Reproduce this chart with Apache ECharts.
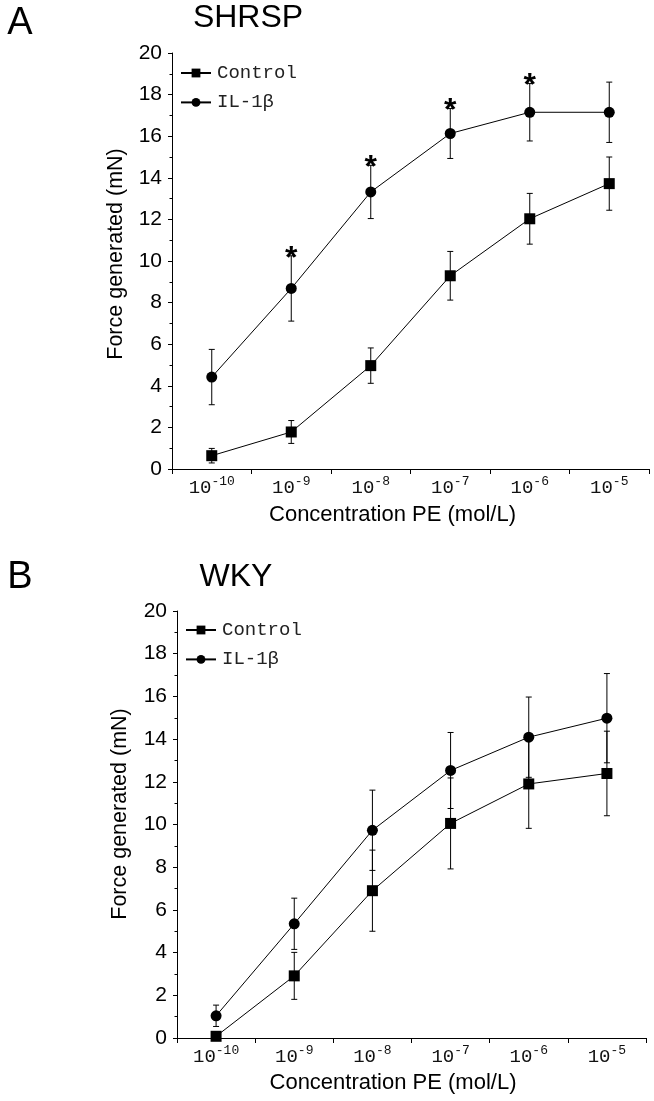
<!DOCTYPE html>
<html>
<head>
<meta charset="utf-8">
<script src="https://cdn.jsdelivr.net/npm/echarts@6/dist/echarts.min.js"></script>
<style>html,body{margin:0;padding:0;background:#fff;}#c{width:654px;height:1101px;}</style>
</head>
<body>
<div id="c"></div>
<script>
// x categories: exponent of PE concentration (10^x mol/L)
var exponents = ['-10', '-9', '-8', '-7', '-6', '-5'];
var yTicks = [0, 2, 4, 6, 8, 10, 12, 14, 16, 18, 20];

// Panel A: SHRSP
var shrspControl = [0.64, 1.78, 4.97, 9.29, 12.03, 13.72];
var shrspControlErr = [0.35, 0.55, 0.85, 1.17, 1.22, 1.28];
var shrspIL = [4.42, 8.68, 13.32, 16.13, 17.15, 17.15];
var shrspILErr = [1.33, 1.57, 1.28, 1.2, 1.38, 1.45];
var shrspStars = [0, 1, 1, 1, 1, 0];

// Panel B: WKY
var wkyControl = [0.08, 2.91, 6.9, 10.05, 11.9, 12.39];
var wkyControlErr = [0.08, 1.1, 1.9, 2.13, 2.08, 1.98];
var wkyIL = [1.04, 5.35, 9.73, 12.53, 14.09, 14.98];
var wkyILErr = [0.5, 1.2, 1.88, 1.78, 1.88, 2.09];
var wkyStars = [0, 0, 0, 0, 0, 0];

var SANS = 'Liberation Sans, Arial, sans-serif';
var MONO = 'Liberation Mono, Courier New, monospace';

var chart = echarts.init(document.getElementById('c'), null, {renderer: 'canvas'});

function errSeries(idx, mean, err) {
  return {
    type: 'custom', xAxisIndex: idx, yAxisIndex: idx, silent: true, z: 1, clip: false,
    data: mean.map(function (m, i) { return [i, m, err[i]]; }),
    encode: {x: 0, y: 1},
    renderItem: function (params, api) {
      var x = api.value(0), m = api.value(1), e = api.value(2);
      var t = api.coord([x, m + e]);
      var b = api.coord([x, m - e]);
      var w = 3;
      var st = {stroke: '#000', lineWidth: 1};
      return {type: 'group', children: [
        {type: 'line', shape: {x1: t[0], y1: t[1], x2: b[0], y2: b[1]}, style: st},
        {type: 'line', shape: {x1: t[0] - w, y1: t[1], x2: t[0] + w, y2: t[1]}, style: st},
        {type: 'line', shape: {x1: b[0] - w, y1: b[1], x2: b[0] + w, y2: b[1]}, style: st}
      ]};
    }
  };
}

function starSeries(idx, mean, err, stars) {
  return {
    type: 'custom', xAxisIndex: idx, yAxisIndex: idx, silent: true, z: 3, clip: false,
    data: mean.map(function (m, i) { return [i, m, err[i], stars[i]]; }),
    encode: {x: 0, y: 1},
    renderItem: function (params, api) {
      if (!api.value(3)) return null;
      var x = api.value(0), m = api.value(1), e = api.value(2);
      var t = api.coord([x, m + e]);
      return {type: 'text', x: t[0], y: t[1] + 3,
        style: {text: '*', font: 'bold 32px ' + SANS, fill: '#000',
          textAlign: 'center', textVerticalAlign: 'middle', align: 'center', verticalAlign: 'middle'}};
    }
  };
}

function lineSeries(idx, name, data, symbol) {
  return {
    type: 'line', name: name, xAxisIndex: idx, yAxisIndex: idx, data: data,
    symbol: symbol, symbolSize: 11, showAllSymbol: true, clip: false, z: 2,
    itemStyle: {color: '#000'}, lineStyle: {color: '#000', width: 1},
    emphasis: {disabled: true}, animation: false
  };
}

function xAxis(idx) {
  return {
    type: 'category', gridIndex: idx, data: exponents, boundaryGap: true,
    axisLine: {lineStyle: {color: '#000', width: 1}},
    axisTick: {show: true, interval: 0, length: 5, inside: false, lineStyle: {color: '#000'}},
    axisLabel: {
      interval: 0, margin: 6, color: '#111', fontFamily: MONO, fontSize: 19,
      formatter: function (v) { return '{base|10}{sup|' + v + '}'; },
      rich: {
        base: {fontFamily: MONO, fontSize: 19, lineHeight: 22, verticalAlign: 'bottom', color: '#111'},
        sup: {fontFamily: MONO, fontSize: 13, lineHeight: 13, verticalAlign: 'top', color: '#111'}
      }
    },
    splitLine: {show: false}
  };
}

function yAxis(idx) {
  return {
    type: 'value', gridIndex: idx, min: yTicks[0], max: yTicks[yTicks.length - 1], interval: 2,
    axisLine: {show: true, lineStyle: {color: '#000', width: 1}},
    axisTick: {show: true, length: 4, lineStyle: {color: '#000'}},
    minorTick: {show: true, splitNumber: 2, length: 2.5, lineStyle: {color: '#000'}},
    axisLabel: {fontFamily: SANS, fontSize: 21, color: '#000', margin: 10},
    splitLine: {show: false}
  };
}

function legend(left, top) {
  return {
    data: ['Control', 'IL-1β'], orient: 'vertical', left: left, top: top,
    itemWidth: 30, itemHeight: 11, itemGap: 9.4, selectedMode: false,
    textStyle: {fontFamily: MONO, fontSize: 19, lineHeight: 20, color: '#222', padding: [0, 0, 0, 1]}
  };
}

function txt(x, y, text, size, rot) {
  return {type: 'text', x: x, y: y, rotation: rot || 0, silent: true,
    style: {text: text, font: size + 'px ' + SANS, fill: '#000',
      textAlign: 'center', textVerticalAlign: 'middle', align: 'center', verticalAlign: 'middle'}};
}

chart.setOption({
  animation: false,
  backgroundColor: '#fff',
  grid: [
    {left: 172, top: 53, width: 477, height: 416},
    {left: 177, top: 611, width: 469, height: 427}
  ],
  xAxis: [xAxis(0), xAxis(1)],
  yAxis: [yAxis(0), yAxis(1)],
  legend: [legend(175, 58), legend(180, 615)],
  graphic: [
    txt(20, 24, 'A', 38),
    txt(248, 18, 'SHRSP', 32),
    txt(116, 254, 'Force generated (mN)', 21.5, Math.PI / 2),
    txt(392.5, 515, 'Concentration PE (mol/L)', 22),
    txt(20, 578, 'B', 38),
    txt(236, 577, 'WKY', 32),
    txt(120, 814, 'Force generated (mN)', 21.5, Math.PI / 2),
    txt(393, 1083, 'Concentration PE (mol/L)', 22)
  ],
  series: [
    errSeries(0, shrspControl, shrspControlErr),
    errSeries(0, shrspIL, shrspILErr),
    lineSeries(0, 'Control', shrspControl, 'rect'),
    lineSeries(0, 'IL-1β', shrspIL, 'circle'),
    starSeries(0, shrspIL, shrspILErr, shrspStars),
    errSeries(1, wkyControl, wkyControlErr),
    errSeries(1, wkyIL, wkyILErr),
    lineSeries(1, 'Control', wkyControl, 'rect'),
    lineSeries(1, 'IL-1β', wkyIL, 'circle'),
    starSeries(1, wkyIL, wkyILErr, wkyStars)
  ]
});
</script>
</body>
</html>
